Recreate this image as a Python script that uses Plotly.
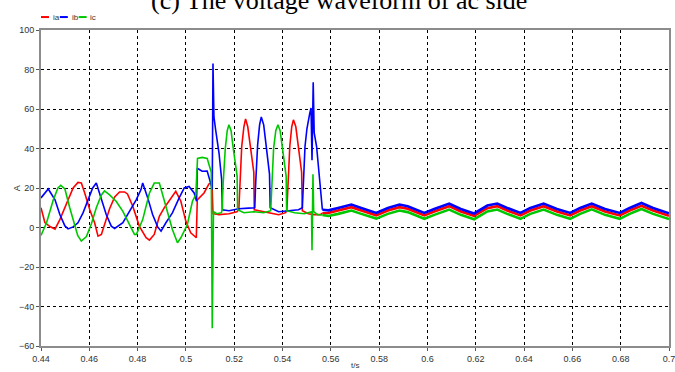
import plotly.graph_objects as go

# ---------------- phase currents (A) vs time (s) ----------------
# ia : red phase, transient part
t_a = [0.4400, 0.4416, 0.4437, 0.4458, 0.4478, 0.4506, 0.4533, 0.4553, 0.4567, 0.4581,
       0.4602, 0.4622, 0.4636, 0.4650, 0.4663, 0.4684, 0.4705, 0.4725, 0.4746, 0.4758,
       0.4780, 0.4807, 0.4835, 0.4849, 0.4869, 0.4890, 0.4910, 0.4938, 0.4958, 0.4979,
       0.5000, 0.5020, 0.5043, 0.5047, 0.5075, 0.5095, 0.5108, 0.5112, 0.5137, 0.5178,
       0.5211, 0.5219, 0.5223, 0.5231, 0.5240, 0.5247, 0.5256, 0.5264, 0.5272, 0.5281,
       0.5283, 0.5309, 0.5343, 0.5384, 0.5413, 0.5418, 0.5422, 0.5430, 0.5438, 0.5445,
       0.5455, 0.5463, 0.5471, 0.5479, 0.5482, 0.5507, 0.5531, 0.5556, 0.5565]
ia = [10.0, 2.5, 0.5, -0.8, 4.0, 12.4, 20.0, 22.8, 22.5, 17.5,
      9.0, 2.4, -4.4, -3.5, 1.5, 9.5, 15.5, 18.0, 18.0, 17.0,
      10.8, 0.7, -5.2, -6.4, -3.5, 5.7, 9.9, 15.0, 18.3, 13.3,
      3.0, -2.7, -5.2, 14.0, 17.5, 22.0, 23.0, 7.0, 6.5, 7.0,
      8.0, 9.0, 22.0, 41.0, 51.0, 55.0, 51.0, 43.0, 34.0, 28.0,
      9.0, 8.5, 7.5, 6.5, 7.5, 9.0, 22.0, 41.0, 51.0, 54.5,
      51.0, 43.0, 34.0, 28.0, 8.5, 7.0, 6.5, 6.5, 7.2]

# ib : blue phase, transient part
t_b = [0.4400, 0.4430, 0.4458, 0.4478, 0.4499, 0.4512, 0.4533, 0.4553, 0.4574, 0.4595,
       0.4614, 0.4629, 0.4650, 0.4670, 0.4691, 0.4705, 0.4739, 0.4766, 0.4794, 0.4814,
       0.4821, 0.4842, 0.4862, 0.4883, 0.4897, 0.4917, 0.4944, 0.4972, 0.4993, 0.5013,
       0.5034, 0.5044, 0.5047, 0.5067, 0.5088, 0.5102, 0.5109, 0.5112, 0.5116, 0.5123,
       0.5137, 0.5148, 0.5151, 0.5178, 0.5219, 0.5260, 0.5285, 0.5289, 0.5297, 0.5305,
       0.5312, 0.5322, 0.5330, 0.5338, 0.5346, 0.5349, 0.5384, 0.5425, 0.5466, 0.5482,
       0.5486, 0.5493, 0.5501, 0.5507, 0.5513, 0.5518, 0.5520, 0.5522, 0.5527, 0.5531,
       0.5541, 0.5548, 0.5555, 0.5560, 0.5565]
ib = [15.0, 19.5, 14.0, 6.6, 0.8, -0.7, 0.3, 2.4, 7.4, 14.0,
      20.0, 22.5, 14.0, 6.6, 0.7, -0.5, 2.4, 8.2, 14.0, 19.2,
      22.5, 15.0, 6.6, 0.3, -1.8, 2.4, 7.4, 15.0, 20.0, 20.8,
      17.5, 13.3, 30.0, 28.5, 28.6, 22.6, 19.2, 83.0, 56.0, 49.5,
      37.7, 24.2, 9.0, 8.5, 9.5, 9.8, 10.0, 23.0, 42.0, 52.0,
      56.0, 52.0, 43.0, 33.0, 27.0, 10.0, 8.0, 8.5, 9.0, 10.0,
      24.0, 41.0, 50.0, 55.0, 58.0, 60.5, 50.0, 34.0, 73.5, 48.0,
      41.0, 32.0, 24.0, 15.0, 9.0]

# ic : green phase, transient part
t_c = [0.4400, 0.4423, 0.4451, 0.4470, 0.4482, 0.4499, 0.4519, 0.4540, 0.4552, 0.4567,
       0.4588, 0.4609, 0.4629, 0.4650, 0.4663, 0.4684, 0.4711, 0.4739, 0.4766, 0.4787,
       0.4795, 0.4821, 0.4849, 0.4869, 0.4890, 0.4917, 0.4944, 0.4965, 0.4979, 0.5006,
       0.5027, 0.5041, 0.5048, 0.5067, 0.5088, 0.5100, 0.5105, 0.5109, 0.5114, 0.5128,
       0.5147, 0.5150, 0.5154, 0.5163, 0.5171, 0.5178, 0.5187, 0.5195, 0.5204, 0.5212,
       0.5214, 0.5240, 0.5281, 0.5322, 0.5351, 0.5355, 0.5363, 0.5372, 0.5381, 0.5390,
       0.5398, 0.5407, 0.5415, 0.5417, 0.5450, 0.5490, 0.5511, 0.5520, 0.5522, 0.5526,
       0.5529, 0.5545, 0.5565]
ic = [-4.0, 2.4, 14.0, 20.0, 21.3, 19.5, 10.0, 0.5, -4.0, -6.9,
      -4.6, 2.0, 10.0, 16.5, 18.5, 16.5, 13.3, 8.2, 1.5, -3.5,
      -3.5, 4.0, 17.5, 22.5, 22.5, 10.8, -1.0, -7.7, -5.2, 1.5,
      13.3, 16.6, 35.0, 35.5, 35.0, 30.0, 28.0, -51.0, 8.0, 7.0,
      7.5, 9.0, 22.0, 40.0, 49.0, 52.0, 49.0, 41.0, 32.0, 26.0,
      9.0, 7.5, 8.0, 7.5, 8.5, 22.0, 40.0, 49.0, 52.0, 49.0,
      41.0, 32.0, 26.0, 8.5, 7.5, 7.0, 7.5, 8.0, -11.5, 27.0,
      8.0, 6.5, 6.3]

# steady state after the transient (shared time base)
t_tail = [0.5565, 0.5590, 0.5630, 0.5685, 0.5726, 0.5788, 0.5836, 0.5884, 0.5918, 0.5987,
          0.6028, 0.6090, 0.6138, 0.6193, 0.6248, 0.6289, 0.6330, 0.6385, 0.6426, 0.6481,
          0.6536, 0.6591, 0.6632, 0.6680, 0.6735, 0.6796, 0.6837, 0.6886, 0.6934, 0.7000]
ia_tail = [7.2, 7.3, 8.6, 10.3, 8.6, 6.2, 8.6, 10.3, 9.5, 6.1,
           8.1, 10.8, 8.1, 5.9, 9.8, 10.8, 8.6, 6.1, 8.6, 10.8,
           8.1, 6.1, 8.6, 10.8, 8.1, 6.1, 8.6, 11.0, 8.6, 5.9]
ib_tail = [9.0, 8.7, 9.9, 11.6, 9.9, 7.4, 9.9, 11.6, 10.8, 7.4,
           9.4, 12.1, 9.4, 7.1, 11.1, 12.1, 9.9, 7.4, 9.9, 12.1,
           9.4, 7.4, 9.9, 12.1, 9.4, 7.4, 9.9, 12.4, 9.9, 7.2]
ic_tail = [6.3, 5.8, 6.9, 8.6, 6.9, 4.5, 6.9, 8.6, 7.8, 4.4,
           6.4, 9.1, 6.4, 4.2, 8.1, 9.1, 6.9, 4.4, 6.9, 9.1,
           6.4, 4.4, 6.9, 9.2, 6.4, 4.4, 6.9, 9.4, 6.9, 4.3]

names = ["ia", "ib", "ic"]
colors = ["#ff0000", "#0000ff", "#00c800"]

x_ticks = [0.44, 0.46, 0.48, 0.50, 0.52, 0.54, 0.56, 0.58, 0.60, 0.62, 0.64, 0.66, 0.68, 0.70]
x_ticktext = ["0.44", "0.46", "0.48", "0.5", "0.52", "0.54", "0.56", "0.58", "0.6",
              "0.62", "0.64", "0.66", "0.68", "0.7"]
y_ticks = [-60, -40, -20, 0, 20, 40, 60, 80, 100]

title_text = "(c) The voltage waveform of ac side"

fig = go.Figure()

heads = [(t_a, ia), (t_b, ib), (t_c, ic)]
tails = [ia_tail, ib_tail, ic_tail]

for (tx, vy), name, col in zip(heads, names, colors):
    fig.add_trace(go.Scatter(x=tx, y=vy, mode="lines", name=name,
                             line=dict(color=col, width=1.6),
                             legendgroup=name, showlegend=False))
for vt, name, col in zip(tails, names, colors):
    fig.add_trace(go.Scatter(x=t_tail, y=vt, mode="lines", name=name,
                             line=dict(color=col, width=2.6),
                             legendgroup=name, showlegend=False))

axis_common = dict(
    showgrid=True, gridcolor="#000000", gridwidth=1, griddash="dot",
    zeroline=False, showline=True, linecolor="#8c8c8c", mirror=True,
    ticks="outside", ticklen=3, tickcolor="#555555",
    tickfont=dict(family="Liberation Sans, Arial", size=9, color="#333333"),
    automargin=False, ticklabeloverflow="allow",
)

fig.update_xaxes(range=[0.44, 0.70], tickvals=x_ticks, ticktext=x_ticktext,
                 linewidth=1.5, **axis_common)
fig.update_yaxes(range=[-60, 100], tickvals=y_ticks, linewidth=2, **axis_common)

# hand-drawn legend at the top left, outside the plot frame
shapes = []
annotations = []
legend_x0 = [0.0, 0.030, 0.060]
for x0, name, col in zip(legend_x0, names, colors):
    shapes.append(dict(type="line", xref="paper", yref="paper",
                       x0=x0, x1=x0 + 0.0127, y0=1.041, y1=1.041,
                       line=dict(color=col, width=2)))
    annotations.append(dict(text=name, xref="paper", yref="paper",
                            x=x0 + 0.0155, y=1.041, xanchor="left", yanchor="middle",
                            showarrow=False,
                            font=dict(family="Liberation Sans, Arial", size=8, color="#333333")))

annotations.append(dict(text=title_text, xref="paper", yref="paper",
                        x=0.4747, y=1.0918, xanchor="center", yanchor="middle",
                        showarrow=False,
                        font=dict(family="Liberation Serif, Times New Roman", size=26,
                                  color="#000000")))
annotations.append(dict(text="A", xref="paper", yref="paper",
                        x=-0.038, y=0.5, xanchor="center", yanchor="middle",
                        textangle=-90, showarrow=False,
                        font=dict(family="Liberation Sans, Arial", size=9, color="#333333")))
annotations.append(dict(text="t/s", xref="paper", yref="paper",
                        x=0.5, y=-0.063, xanchor="center", yanchor="middle",
                        showarrow=False,
                        font=dict(family="Liberation Sans, Arial", size=8, color="#333333")))

fig.update_layout(
    width=675, height=372,
    margin=dict(l=41, r=6, t=30, b=26),
    paper_bgcolor="#ffffff", plot_bgcolor="#ffffff",
    showlegend=False,
    shapes=shapes,
    annotations=annotations,
)

fig.write_html("out.html")
